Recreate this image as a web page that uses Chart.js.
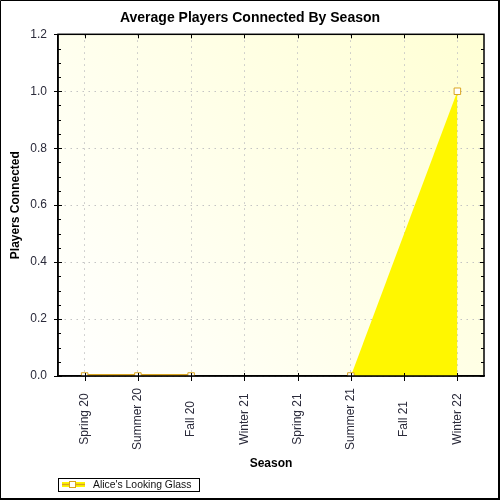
<!DOCTYPE html>
<html>
<head>
<meta charset="utf-8">
<script src="https://cdn.jsdelivr.net/npm/chart.js@4.4.1/dist/chart.umd.min.js"></script>
<style>
  html, body { margin: 0; padding: 0; background: #fff; }
  canvas { display: block; }
</style>
</head>
<body>
<canvas id="c" width="500" height="500"></canvas>
<script>
// ---- data ----
const seasons = ["Spring 20", "Summer 20", "Fall 20", "Winter 21", "Spring 21", "Summer 21", "Fall 21", "Winter 22"];
const avgPlayers = [0, 0, 0, null, null, 0, null, 1.0];
const seriesName = "Alice's Looking Glass";
const chartTitle = "Average Players Connected By Season";
const xTitle = "Season";
const yTitle = "Players Connected";
const yMin = 0, yMax = 1.2, yStep = 0.2, yMinorStep = 0.05;

// ---- styles ----
const FONT = "'Liberation Sans', Arial, sans-serif";
const GOLD = '#daa520';
const FILL = '#fff700';
const TICK_TXT = '#2a2a3a';

const decorPlugin = {
  id: 'decor',
  beforeDraw(chart) {
    const { ctx, chartArea: a } = chart;
    ctx.save();
    ctx.fillStyle = '#ffffff';
    ctx.fillRect(0, 0, chart.width, chart.height);
    const g = ctx.createLinearGradient(a.left, a.bottom, a.right, a.top);
    g.addColorStop(0, '#ffffff');
    g.addColorStop(1, '#ffffd4');
    ctx.fillStyle = g;
    ctx.fillRect(a.left, a.top, a.right - a.left, a.bottom - a.top);
    ctx.restore();
  },
  afterDraw(chart) {
    const { ctx, chartArea: a } = chart;
    const xs = chart.scales.x, ys = chart.scales.y;
    ctx.save();
    // plot box
    ctx.strokeStyle = '#000';
    ctx.lineWidth = 1.5;
    ctx.strokeRect(a.left, a.top, a.right - a.left, a.bottom - a.top);
    // tick marks
    ctx.lineWidth = 1;
    ctx.beginPath();
    const nMinor = Math.round((yMax - yMin) / yMinorStep);
    for (let i = 0; i <= nMinor; i++) {
      const v = yMin + i * yMinorStep;
      const y = Math.round(ys.getPixelForValue(v)) + 0.5;
      const major = (i % Math.round(yStep / yMinorStep)) === 0;
      if (major) {
        ctx.moveTo(a.left - 4, y); ctx.lineTo(a.left + 4, y);
        ctx.moveTo(a.right - 4, y); ctx.lineTo(a.right, y);
      } else {
        ctx.moveTo(a.left - 1, y); ctx.lineTo(a.left + 3, y);
        ctx.moveTo(a.right - 3, y); ctx.lineTo(a.right, y);
      }
    }
    for (let i = 0; i < seasons.length; i++) {
      const x = Math.round(xs.getPixelForTick(i)) + 0.5;
      ctx.moveTo(x, a.bottom - 3); ctx.lineTo(x, a.bottom + 5);
      ctx.moveTo(x, a.top); ctx.lineTo(x, a.top + 4);
    }
    ctx.stroke();
    // x tick labels, rotated and centred in their band
    ctx.fillStyle = TICK_TXT;
    ctx.font = '12px ' + FONT;
    ctx.textAlign = 'center';
    ctx.textBaseline = 'middle';
    const labels = chart.data.labels;
    for (let i = 0; i < labels.length; i++) {
      const x = xs.getPixelForTick(i);
      ctx.save();
      ctx.translate(x, a.bottom + 43);
      ctx.rotate(-Math.PI / 2);
      ctx.fillText(labels[i], 0, 0);
      ctx.restore();
    }
    // legend
    const lx = 58, ly = 478, lw = 141, lh = 13;
    ctx.fillStyle = '#ffffff';
    ctx.fillRect(lx, ly, lw, lh);
    ctx.strokeStyle = '#000';
    ctx.lineWidth = 1;
    ctx.strokeRect(lx + 0.5, ly + 0.5, lw, lh);
    ctx.fillStyle = FILL;
    ctx.fillRect(62, 482, 23, 5);
    ctx.strokeStyle = GOLD;
    ctx.lineWidth = 1.5;
    ctx.beginPath(); ctx.moveTo(62, 484.5); ctx.lineTo(85, 484.5); ctx.stroke();
    ctx.fillStyle = '#fff';
    ctx.lineWidth = 1;
    ctx.fillRect(69.5, 481.5, 6, 6);
    ctx.strokeRect(69.5, 481.5, 6, 6);
    ctx.fillStyle = '#111';
    ctx.font = '10.4px ' + FONT;
    ctx.textAlign = 'left';
    ctx.textBaseline = 'middle';
    ctx.fillText(chart.data.datasets[0].label, 93, 485);
    // outer frame
    ctx.strokeStyle = '#000';
    ctx.lineWidth = 1;
    ctx.beginPath();
    ctx.moveTo(0.5, 499); ctx.lineTo(0.5, 0.5); ctx.lineTo(499, 0.5);
    ctx.stroke();
    ctx.lineWidth = 2;
    ctx.beginPath();
    ctx.moveTo(499, 0); ctx.lineTo(499, 499); ctx.lineTo(0, 499);
    ctx.stroke();
    ctx.restore();
  }
};

new Chart(document.getElementById('c'), {
  type: 'line',
  data: {
    labels: seasons,
    datasets: [{
      label: seriesName,
      data: avgPlayers,
      spanGaps: true,
      fill: 'origin',
      backgroundColor: FILL,
      borderColor: GOLD,
      borderWidth: 4,
      tension: 0,
      clip: 0,
      pointStyle: 'rect',
      pointRadius: 4.6,
      pointBorderWidth: 1,
      pointBackgroundColor: '#ffffff',
      pointBorderColor: GOLD,
      segment: {
        borderColor: ctx => (avgPlayers[ctx.p1DataIndex - 1] === null) ? 'rgba(0,0,0,0)' : undefined
      }
    }]
  },
  options: {
    responsive: false,
    animation: false,
    devicePixelRatio: 1,
    events: [],
    layout: { padding: { left: 0, right: 0, top: 0, bottom: 25 } },
    plugins: {
      legend: { display: false },
      tooltip: { enabled: false },
      title: {
        display: true,
        text: chartTitle,
        color: '#000',
        font: { family: FONT, size: 14, weight: 'bold' },
        padding: { top: 10, bottom: 7.5 }
      }
    },
    scales: {
      x: {
        type: 'category',
        offset: true,
        grid: { offset: false, color: '#c4c4c4', lineWidth: 1, drawTicks: false },
        border: { display: true, color: '#000', width: 1.5, dash: [1.5, 4.5] },
        ticks: { display: false },
        title: {
          display: true, text: xTitle, color: '#000',
          font: { family: FONT, size: 12, weight: 'bold' },
          padding: { top: 0, bottom: 4 }
        },
        afterFit(s) { s.height = 99; }
      },
      y: {
        min: yMin, max: yMax,
        grid: { color: '#c4c4c4', lineWidth: 1, drawTicks: false },
        border: { display: true, color: '#000', width: 1.5, dash: [1.5, 4.5] },
        ticks: {
          stepSize: yStep, padding: 11, color: TICK_TXT,
          font: { family: FONT, size: 12 },
          callback: v => Number(v).toFixed(1)
        },
        title: {
          display: true, text: yTitle, color: '#000',
          font: { family: FONT, size: 12, weight: 'bold' },
          padding: { top: 8, bottom: 0 }
        },
        afterFit(s) { s.width = 58; }
      },
      yRight: {
        position: 'right',
        min: yMin, max: yMax,
        grid: { display: false, drawTicks: false },
        border: { display: false },
        ticks: { display: false },
        afterFit(s) { s.width = 16; }
      }
    }
  },
  plugins: [decorPlugin]
});
</script>
</body>
</html>
